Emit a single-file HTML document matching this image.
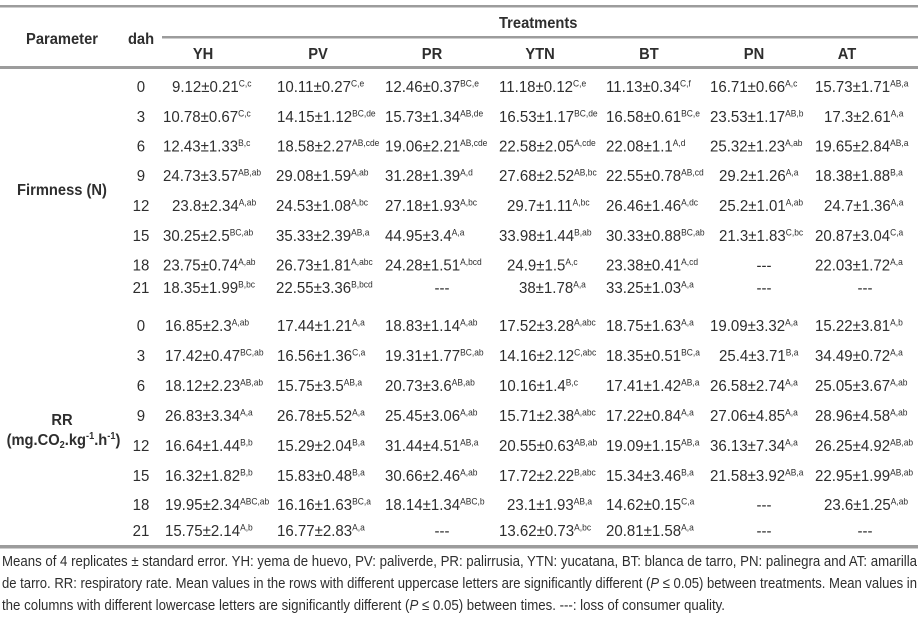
<!DOCTYPE html>
<html>
<head>
<meta charset="utf-8">
<style>
html,body{margin:0;padding:0;background:#fff;}
svg{display:block;}
text{font-family:"Liberation Sans",Arial,sans-serif;fill:#2e2e2e;}
.d text{font-size:16px;}
.s{font-size:9px;}
.h text{font-size:16px;font-weight:bold;}
.f{font-size:15px;}
</style>
</head>
<body>
<svg width="924" height="619" viewBox="0 0 924 619" xmlns="http://www.w3.org/2000/svg">
<rect width="924" height="619" fill="#fff"/>
<!-- rules -->
<rect x="0" y="5" width="918" height="2.5" fill="#9c9c9c"/>
<rect x="162" y="36" width="756" height="2.5" fill="#9c9c9c"/>
<rect x="0" y="66" width="918" height="3" fill="#9c9c9c"/>
<rect x="0" y="545" width="918" height="3.5" fill="#9c9c9c"/>

<!-- headers -->
<g class="h" transform="scale(0.92,1)">
<text x="67.4" y="44" text-anchor="middle">Parameter</text>
<text x="153.3" y="44" text-anchor="middle">dah</text>
<text x="542.4" y="28">Treatments</text>
<text x="220.7" y="59" text-anchor="middle">YH</text>
<text x="345.7" y="59" text-anchor="middle">PV</text>
<text x="469.6" y="59" text-anchor="middle">PR</text>
<text x="587" y="59" text-anchor="middle">YTN</text>
<text x="705.4" y="59" text-anchor="middle">BT</text>
<text x="819.6" y="59" text-anchor="middle">PN</text>
<text x="920.7" y="59" text-anchor="middle">AT</text>
<text x="67.4" y="195" text-anchor="middle">Firmness (N)</text>
<text x="67.4" y="425" text-anchor="middle">RR</text>
<text x="69" y="445" text-anchor="middle">(mg.CO<tspan dy="3" font-size="10">2</tspan><tspan dy="-3">.kg</tspan><tspan dy="-6" font-size="10">-1</tspan><tspan dy="6">.h</tspan><tspan dy="-6" font-size="10">-1</tspan><tspan dy="6">)</tspan></text>
</g>

<!-- data -->
<g class="d" transform="scale(0.94,1)">
<!-- Firmness row 0 -->
<text x="150" y="92" text-anchor="middle">0</text>
<text x="183" y="92">9.12±0.21<tspan class="s" dy="-5.5">C,c</tspan></text>
<text x="294.7" y="92">10.11±0.27<tspan class="s" dy="-5.5">C,e</tspan></text>
<text x="409.6" y="92">12.46±0.37<tspan class="s" dy="-5.5">BC,e</tspan></text>
<text x="530.9" y="92">11.18±0.12<tspan class="s" dy="-5.5">C,e</tspan></text>
<text x="644.7" y="92">11.13±0.34<tspan class="s" dy="-5.5">C,f</tspan></text>
<text x="755.3" y="92">16.71±0.66<tspan class="s" dy="-5.5">A,c</tspan></text>
<text x="867" y="92">15.73±1.71<tspan class="s" dy="-5.5">AB,a</tspan></text>
<!-- row 3 -->
<text x="150" y="122" text-anchor="middle">3</text>
<text x="173.4" y="122">10.78±0.67<tspan class="s" dy="-5.5">C,c</tspan></text>
<text x="294.7" y="122">14.15±1.12<tspan class="s" dy="-5.5">BC,de</tspan></text>
<text x="409.6" y="122">15.73±1.34<tspan class="s" dy="-5.5">AB,de</tspan></text>
<text x="530.9" y="122">16.53±1.17<tspan class="s" dy="-5.5">BC,de</tspan></text>
<text x="644.7" y="122">16.58±0.61<tspan class="s" dy="-5.5">BC,e</tspan></text>
<text x="755.3" y="122">23.53±1.17<tspan class="s" dy="-5.5">AB,b</tspan></text>
<text x="876.6" y="122">17.3±2.61<tspan class="s" dy="-5.5">A,a</tspan></text>
<!-- row 6 -->
<text x="150" y="151.5" text-anchor="middle">6</text>
<text x="173.4" y="151.5">12.43±1.33<tspan class="s" dy="-5.5">B,c</tspan></text>
<text x="294.7" y="151.5">18.58±2.27<tspan class="s" dy="-5.5">AB,cde</tspan></text>
<text x="409.6" y="151.5">19.06±2.21<tspan class="s" dy="-5.5">AB,cde</tspan></text>
<text x="530.9" y="151.5">22.58±2.05<tspan class="s" dy="-5.5">A,cde</tspan></text>
<text x="644.7" y="151.5">22.08±1.1<tspan class="s" dy="-5.5">A,d</tspan></text>
<text x="755.3" y="151.5">25.32±1.23<tspan class="s" dy="-5.5">A,ab</tspan></text>
<text x="867" y="151.5">19.65±2.84<tspan class="s" dy="-5.5">AB,a</tspan></text>
<!-- row 9 -->
<text x="150" y="181" text-anchor="middle">9</text>
<text x="173.4" y="181">24.73±3.57<tspan class="s" dy="-5.5">AB,ab</tspan></text>
<text x="293.6" y="181">29.08±1.59<tspan class="s" dy="-5.5">A,ab</tspan></text>
<text x="409.6" y="181">31.28±1.39<tspan class="s" dy="-5.5">A,d</tspan></text>
<text x="530.9" y="181">27.68±2.52<tspan class="s" dy="-5.5">AB,bc</tspan></text>
<text x="644.7" y="181">22.55±0.78<tspan class="s" dy="-5.5">AB,cd</tspan></text>
<text x="764.9" y="181">29.2±1.26<tspan class="s" dy="-5.5">A,a</tspan></text>
<text x="867" y="181">18.38±1.88<tspan class="s" dy="-5.5">B,a</tspan></text>
<!-- row 12 -->
<text x="150" y="211" text-anchor="middle">12</text>
<text x="183" y="211">23.8±2.34<tspan class="s" dy="-5.5">A,ab</tspan></text>
<text x="293.6" y="211">24.53±1.08<tspan class="s" dy="-5.5">A,bc</tspan></text>
<text x="409.6" y="211">27.18±1.93<tspan class="s" dy="-5.5">A,bc</tspan></text>
<text x="539.4" y="211">29.7±1.11<tspan class="s" dy="-5.5">A,bc</tspan></text>
<text x="644.7" y="211">26.46±1.46<tspan class="s" dy="-5.5">A,dc</tspan></text>
<text x="764.9" y="211">25.2±1.01<tspan class="s" dy="-5.5">A,ab</tspan></text>
<text x="876.6" y="211">24.7±1.36<tspan class="s" dy="-5.5">A,a</tspan></text>
<!-- row 15 -->
<text x="150" y="241" text-anchor="middle">15</text>
<text x="173.4" y="241">30.25±2.5<tspan class="s" dy="-5.5">BC,ab</tspan></text>
<text x="293.6" y="241">35.33±2.39<tspan class="s" dy="-5.5">AB,a</tspan></text>
<text x="409.6" y="241">44.95±3.4<tspan class="s" dy="-5.5">A,a</tspan></text>
<text x="530.9" y="241">33.98±1.44<tspan class="s" dy="-5.5">B,ab</tspan></text>
<text x="644.7" y="241">30.33±0.88<tspan class="s" dy="-5.5">BC,ab</tspan></text>
<text x="764.9" y="241">21.3±1.83<tspan class="s" dy="-5.5">C,bc</tspan></text>
<text x="867" y="241">20.87±3.04<tspan class="s" dy="-5.5">C,a</tspan></text>
<!-- row 18 -->
<text x="150" y="270.5" text-anchor="middle">18</text>
<text x="173.4" y="270.5">23.75±0.74<tspan class="s" dy="-5.5">A,ab</tspan></text>
<text x="293.6" y="270.5">26.73±1.81<tspan class="s" dy="-5.5">A,abc</tspan></text>
<text x="409.6" y="270.5">24.28±1.51<tspan class="s" dy="-5.5">A,bcd</tspan></text>
<text x="539.4" y="270.5">24.9±1.5<tspan class="s" dy="-5.5">A,c</tspan></text>
<text x="644.7" y="270.5">23.38±0.41<tspan class="s" dy="-5.5">A,cd</tspan></text>
<text x="812.8" y="270.5" text-anchor="middle">---</text>
<text x="867" y="270.5">22.03±1.72<tspan class="s" dy="-5.5">A,a</tspan></text>
<!-- row 21 -->
<text x="150" y="293" text-anchor="middle">21</text>
<text x="173.4" y="293">18.35±1.99<tspan class="s" dy="-5.5">B,bc</tspan></text>
<text x="293.6" y="293">22.55±3.36<tspan class="s" dy="-5.5">B,bcd</tspan></text>
<text x="470.2" y="293" text-anchor="middle">---</text>
<text x="552.1" y="293">38±1.78<tspan class="s" dy="-5.5">A,a</tspan></text>
<text x="644.7" y="293">33.25±1.03<tspan class="s" dy="-5.5">A,a</tspan></text>
<text x="812.8" y="293" text-anchor="middle">---</text>
<text x="920.2" y="293" text-anchor="middle">---</text>

<!-- RR row 0 -->
<text x="150" y="331" text-anchor="middle">0</text>
<text x="175.5" y="331">16.85±2.3<tspan class="s" dy="-5.5">A,ab</tspan></text>
<text x="294.7" y="331">17.44±1.21<tspan class="s" dy="-5.5">A,a</tspan></text>
<text x="409.6" y="331">18.83±1.14<tspan class="s" dy="-5.5">A,ab</tspan></text>
<text x="530.9" y="331">17.52±3.28<tspan class="s" dy="-5.5">A,abc</tspan></text>
<text x="644.7" y="331">18.75±1.63<tspan class="s" dy="-5.5">A,a</tspan></text>
<text x="755.3" y="331">19.09±3.32<tspan class="s" dy="-5.5">A,a</tspan></text>
<text x="867" y="331">15.22±3.81<tspan class="s" dy="-5.5">A,b</tspan></text>
<!-- RR row 3 -->
<text x="150" y="361" text-anchor="middle">3</text>
<text x="175.5" y="361">17.42±0.47<tspan class="s" dy="-5.5">BC,ab</tspan></text>
<text x="294.7" y="361">16.56±1.36<tspan class="s" dy="-5.5">C,a</tspan></text>
<text x="409.6" y="361">19.31±1.77<tspan class="s" dy="-5.5">BC,ab</tspan></text>
<text x="530.9" y="361">14.16±2.12<tspan class="s" dy="-5.5">C,abc</tspan></text>
<text x="644.7" y="361">18.35±0.51<tspan class="s" dy="-5.5">BC,a</tspan></text>
<text x="764.9" y="361">25.4±3.71<tspan class="s" dy="-5.5">B,a</tspan></text>
<text x="867" y="361">34.49±0.72<tspan class="s" dy="-5.5">A,a</tspan></text>
<!-- RR row 6 -->
<text x="150" y="391" text-anchor="middle">6</text>
<text x="175.5" y="391">18.12±2.23<tspan class="s" dy="-5.5">AB,ab</tspan></text>
<text x="294.7" y="391">15.75±3.5<tspan class="s" dy="-5.5">AB,a</tspan></text>
<text x="409.6" y="391">20.73±3.6<tspan class="s" dy="-5.5">AB,ab</tspan></text>
<text x="530.9" y="391">10.16±1.4<tspan class="s" dy="-5.5">B,c</tspan></text>
<text x="644.7" y="391">17.41±1.42<tspan class="s" dy="-5.5">AB,a</tspan></text>
<text x="755.3" y="391">26.58±2.74<tspan class="s" dy="-5.5">A,a</tspan></text>
<text x="867" y="391">25.05±3.67<tspan class="s" dy="-5.5">A,ab</tspan></text>
<!-- RR row 9 -->
<text x="150" y="421" text-anchor="middle">9</text>
<text x="175.5" y="421">26.83±3.34<tspan class="s" dy="-5.5">A,a</tspan></text>
<text x="294.7" y="421">26.78±5.52<tspan class="s" dy="-5.5">A,a</tspan></text>
<text x="409.6" y="421">25.45±3.06<tspan class="s" dy="-5.5">A,ab</tspan></text>
<text x="530.9" y="421">15.71±2.38<tspan class="s" dy="-5.5">A,abc</tspan></text>
<text x="644.7" y="421">17.22±0.84<tspan class="s" dy="-5.5">A,a</tspan></text>
<text x="755.3" y="421">27.06±4.85<tspan class="s" dy="-5.5">A,a</tspan></text>
<text x="867" y="421">28.96±4.58<tspan class="s" dy="-5.5">A,ab</tspan></text>
<!-- RR row 12 -->
<text x="150" y="451" text-anchor="middle">12</text>
<text x="175.5" y="451">16.64±1.44<tspan class="s" dy="-5.5">B,b</tspan></text>
<text x="294.7" y="451">15.29±2.04<tspan class="s" dy="-5.5">B,a</tspan></text>
<text x="409.6" y="451">31.44±4.51<tspan class="s" dy="-5.5">AB,a</tspan></text>
<text x="530.9" y="451">20.55±0.63<tspan class="s" dy="-5.5">AB,ab</tspan></text>
<text x="644.7" y="451">19.09±1.15<tspan class="s" dy="-5.5">AB,a</tspan></text>
<text x="755.3" y="451">36.13±7.34<tspan class="s" dy="-5.5">A,a</tspan></text>
<text x="867" y="451">26.25±4.92<tspan class="s" dy="-5.5">AB,ab</tspan></text>
<!-- RR row 15 -->
<text x="150" y="481" text-anchor="middle">15</text>
<text x="175.5" y="481">16.32±1.82<tspan class="s" dy="-5.5">B,b</tspan></text>
<text x="294.7" y="481">15.83±0.48<tspan class="s" dy="-5.5">B,a</tspan></text>
<text x="409.6" y="481">30.66±2.46<tspan class="s" dy="-5.5">A,ab</tspan></text>
<text x="530.9" y="481">17.72±2.22<tspan class="s" dy="-5.5">B,abc</tspan></text>
<text x="644.7" y="481">15.34±3.46<tspan class="s" dy="-5.5">B,a</tspan></text>
<text x="755.3" y="481">21.58±3.92<tspan class="s" dy="-5.5">AB,a</tspan></text>
<text x="867" y="481">22.95±1.99<tspan class="s" dy="-5.5">AB,ab</tspan></text>
<!-- RR row 18 -->
<text x="150" y="510" text-anchor="middle">18</text>
<text x="175.5" y="510">19.95±2.34<tspan class="s" dy="-5.5">ABC,ab</tspan></text>
<text x="294.7" y="510">16.16±1.63<tspan class="s" dy="-5.5">BC,a</tspan></text>
<text x="409.6" y="510">18.14±1.34<tspan class="s" dy="-5.5">ABC,b</tspan></text>
<text x="539.4" y="510">23.1±1.93<tspan class="s" dy="-5.5">AB,a</tspan></text>
<text x="644.7" y="510">14.62±0.15<tspan class="s" dy="-5.5">C,a</tspan></text>
<text x="812.8" y="510" text-anchor="middle">---</text>
<text x="876.6" y="510">23.6±1.25<tspan class="s" dy="-5.5">A,ab</tspan></text>
<!-- RR row 21 -->
<text x="150" y="536" text-anchor="middle">21</text>
<text x="175.5" y="536">15.75±2.14<tspan class="s" dy="-5.5">A,b</tspan></text>
<text x="294.7" y="536">16.77±2.83<tspan class="s" dy="-5.5">A,a</tspan></text>
<text x="470.2" y="536" text-anchor="middle">---</text>
<text x="530.9" y="536">13.62±0.73<tspan class="s" dy="-5.5">A,bc</tspan></text>
<text x="644.7" y="536">20.81±1.58<tspan class="s" dy="-5.5">A,a</tspan></text>
<text x="812.8" y="536" text-anchor="middle">---</text>
<text x="920.2" y="536" text-anchor="middle">---</text>
</g>

<!-- footnote -->
<text class="f" x="2" y="566" textLength="915" lengthAdjust="spacingAndGlyphs">Means of 4 replicates ± standard error. YH: yema de huevo, PV: paliverde, PR: palirrusia, YTN: yucatana, BT: blanca de tarro, PN: palinegra and AT: amarilla</text>
<text class="f" x="2" y="588" textLength="915" lengthAdjust="spacingAndGlyphs">de tarro. RR: respiratory rate. Mean values in the rows with different uppercase letters are significantly different (<tspan font-style="italic">P</tspan> ≤ 0.05) between treatments. Mean values in</text>
<text class="f" x="2" y="610" textLength="723" lengthAdjust="spacingAndGlyphs">the columns with different lowercase letters are significantly different (<tspan font-style="italic">P</tspan> ≤ 0.05) between times. ---: loss of consumer quality.</text>
</svg>
</body>
</html>
